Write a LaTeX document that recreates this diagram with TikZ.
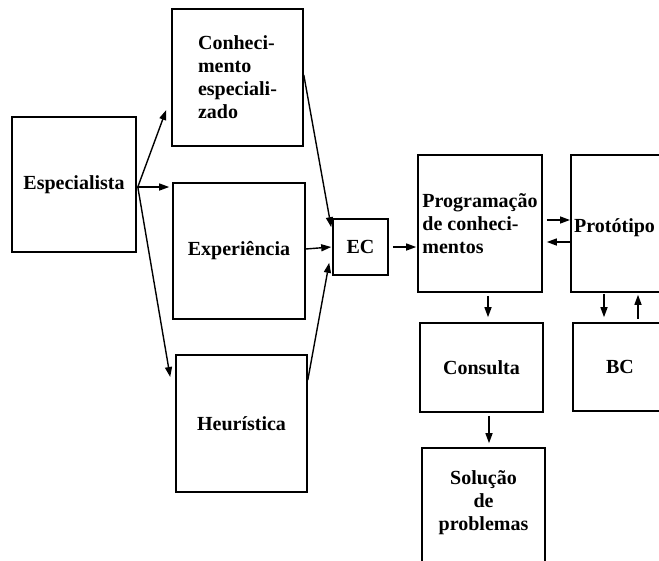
\documentclass[tikz,border=0pt]{standalone}
\usepackage{fontspec}
\setmainfont{Liberation Serif}
\usetikzlibrary{arrows.meta,calc}
\begin{document}
\begin{tikzpicture}[x=1pt,y=-1pt,
  box/.style={draw,line width=1.6pt,inner sep=2pt,font=\bfseries\fontsize{20}{23}\selectfont},
  lbl/.style={inner sep=0pt,font=\bfseries\fontsize{20}{23}\selectfont},
  arr/.style={line width=1.4pt,-{Triangle[length=10pt,width=7pt]}}]
\clip (0,0) rectangle (659,560);
\useasboundingbox (0,0) rectangle (659,560);
\node[box,minimum width=124pt,minimum height=135pt] (esp) at (74,184.5) {Especialista};
\node[box,minimum width=131pt,minimum height=137pt,align=left] (conh) at (237.5,77.5) {Conheci-\\mento\\especiali-\\zado};
\node[box,minimum width=132pt,minimum height=136pt] (exp) at (239,251) {Experiência};
\node[box,minimum width=131pt,minimum height=137pt] (heur) at (241.5,423.5) {Heurística};
\node[box,minimum width=55pt,minimum height=56pt] (ec) at (360.5,247) {EC};
\node[box,minimum width=124pt,minimum height=137pt,align=left,inner sep=1pt] (prog) at (480,223.5) {Programação\\de conheci-\\mentos};
\node[box,minimum width=124pt,minimum height=137pt,anchor=west] (prot) at (570,223.5) {};
\node[lbl,anchor=west] (prottxt) at (574,228) {Protótipo};
\node[box,minimum width=123pt,minimum height=89pt] (cons) at (481.5,367.5) {Consulta};
\node[box,minimum width=124pt,minimum height=88pt,anchor=west] (bc) at (572,367) {};
\node[lbl] (bctxt) at (620,367) {BC};
\node[box,minimum width=123pt,minimum height=137pt] (sol) at (483.5,516.5) {};
\node[lbl,align=center] (soltxt) at (483.5,503) {Solução\\de\\problemas};
% connectors
\draw[arr] ($(esp.east)+(1,2.5)$) -- ($(conh.west)+(-5,32.5)$);
\draw[arr] ($(esp.east)+(1,2.5)$) -- ($(exp.west)+(-3,-64)$);
\draw[arr] ($(esp.east)+(1,2.5)$) -- ($(heur.west)+(-5,-46.5)$);
\draw[arr] ($(conh.east)+(0,-2.5)$) -- ($(ec.north west)+(-1,9)$);
\draw[arr] ($(exp.east)+(0,-2)$) -- ($(ec.west)+(-1,0)$);
\draw[arr] ($(heur.east)+(0,-43.5)$) -- ($(ec.south west)+(-3,-13)$);
\draw[arr] ($(ec.east)+(4,0)$) -- ($(prog.west |- ec.east)+(-1,0)$);
\draw[arr] ($(prog.east)+(4,-3.5)$) -- ($(prot.west)+(0,-3.5)$);
\draw[arr] ($(prot.west)+(0,18.5)$) -- ($(prog.east)+(4,18.5)$);
\draw[arr] ($(prog.south)+(8,3)$) -- ($(cons.north)+(6.5,-5)$);
\draw[arr] ($(prot.south west)+(34,1)$) -- ($(bc.north west)+(32,-5)$);
\draw[arr] ($(bc.north west)+(66,-3)$) -- ($(prot.south west)+(68,2)$);
\draw[arr] ($(cons.south)+(7.5,3)$) -- ($(sol.north)+(5.5,-4)$);
\end{tikzpicture}
\end{document}
